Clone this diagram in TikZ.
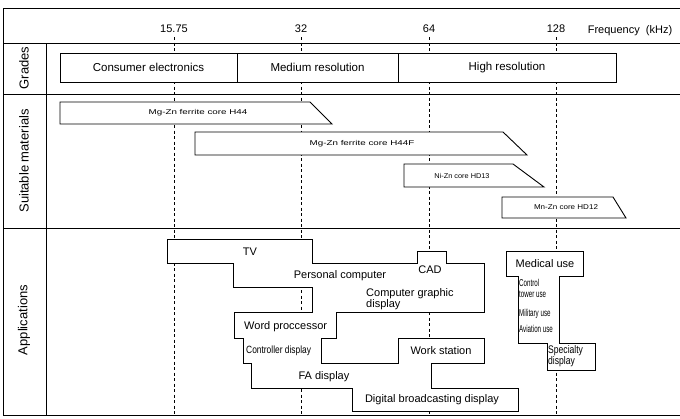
\documentclass[tikz,border=0pt]{standalone}
\usepackage{fontspec}
\setmainfont{Liberation Sans}
\begin{document}
\begin{tikzpicture}[x=1pt,y=-1pt,
  frameline/.style={line width=0.7pt},
  gridline/.style={line width=0.5pt, dash pattern=on 3pt off 2.5pt},
  shapeline/.style={draw, fill=white, line width=0.9pt, line join=miter},
  gbox/.style={draw, fill=white, line width=0.9pt, inner sep=0pt, minimum height=29pt, font=\fontsize{11.5}{12}\selectfont},
  hdr/.style={inner sep=0pt, font=\fontsize{11}{12}\selectfont},
  side/.style={inner sep=0pt, rotate=90, font=\fontsize{13}{13}\selectfont},
  mat/.style={inner sep=0pt, font=\fontsize{7}{8}\selectfont},
  app/.style={inner sep=0pt, font=\fontsize{11}{11}\selectfont},
  appsm/.style={inner sep=0pt, font=\fontsize{10.5}{10.5}\selectfont},
  cond/.style={inner sep=0pt, align=left, font=\fontsize{10}{11.5}\selectfont}
]
\useasboundingbox (0,0) rectangle (680,418);

% frame
\draw[frameline] (680,8) -- (3,8) -- (3,415) -- (680,415);
\draw[frameline] (3,43) -- (680,43);
\draw[frameline] (3,94) -- (680,94);
\draw[frameline] (3,228) -- (680,228);
\draw[frameline] (46,43) -- (46,415);

% grid lines
\foreach \gx in {174,301,429,556}
  \draw[gridline] (\gx,37) -- (\gx,415);

% header
\node[hdr] (f1) at (174,29) {15.75};
\node[hdr] (f2) at (301,29) {32};
\node[hdr] (f3) at (429,29) {64};
\node[hdr] (f4) at (556,29) {128};
\node[hdr] (fq) at (630,31) {Frequency\ \ (kHz)};

% side labels
\node[side] (sg) at (24,68) {Grades};
\node[side] (sm) at (24,161) {Suitable materials};
\node[side] (sa) at (24,320) {Applications};

% grades
\node[gbox, minimum width=177pt] (ce) at (148.5,67.5) {Consumer electronics};
\node[gbox, minimum width=161pt] (mr) at (317.5,67.5) {Medium resolution};
\node[gbox, minimum width=218pt] (hr) at (507,67.5) {High resolution};

% materials
\draw[shapeline] (60,102) -- (310,102) -- (332,124) -- (60,124) -- cycle;
\node[mat] (m1) at (198,113) {\scalebox{1.4}[1]{Mg-Zn ferrite core H44}};
\draw[shapeline] (195,132) -- (503,132) -- (527,155) -- (195,155) -- cycle;
\node[mat] (m2) at (362,143.5) {\scalebox{1.4}[1]{Mg-Zn ferrite core H44F}};
\draw[shapeline] (404,164) -- (513,164) -- (544,187) -- (404,187) -- cycle;
\node[mat] (m3) at (462,175.5) {\scalebox{1.05}[1]{Ni-Zn core HD13}};
\draw[shapeline] (502,197) -- (613,197) -- (626,218) -- (502,218) -- cycle;
\node[mat] (m4) at (566,207.5) {\scalebox{1.15}[1]{Mn-Zn core HD12}};

% applications main band
\draw[shapeline] (167,239) -- (312,239) -- (312,263) -- (417,263) -- (417,251) -- (446,251) -- (446,263) -- (484,263) -- (484,312) -- (336,312) -- (336,338) -- (321,338) -- (321,363) -- (398,363) -- (398,338) -- (484,338) -- (484,363) -- (431,363) -- (431,388) -- (518,388) -- (518,411) -- (352,411) -- (352,388) -- (251,388) -- (251,363) -- (243,363) -- (243,338) -- (234,338) -- (234,312) -- (312,312) -- (312,287) -- (233,287) -- (233,263) -- (167,263) -- cycle;

\node[app] (tv) at (250,252) {TV};
\node[app] (pc) at (340,276) {Personal computer};
\node[app] (cad) at (430,270) {CAD};
\node[app, align=left, anchor=north west, font=\fontsize{11}{9.5}\selectfont] (cg) at (366,288) {Computer graphic\\display};
\node[app, anchor=west] (wp) at (244,327) {Word proccessor};
\node[appsm, anchor=west] (cd) at (246,351) {\scalebox{0.8}[1]{Controller display}};
\node[app] (fa) at (324,377) {FA display};
\node[app] (ws) at (441,351) {Work station};
\node[app] (db) at (432,400) {Digital broadcasting display};

% medical band
\draw[shapeline] (506,251) -- (583,251) -- (583,276) -- (559,276) -- (559,343) -- (595,343) -- (595,370) -- (547,370) -- (547,343) -- (518,343) -- (518,276) -- (506,276) -- cycle;
\node[app] (mu) at (545,264) {Medical use};
\node[cond, anchor=north west] (ct) at (519,279) {\scalebox{0.62}[1]{Control}\\\scalebox{0.62}[1]{tower use}};
\node[cond, anchor=west] (mi) at (519,314) {\scalebox{0.62}[1]{Military use}};
\node[cond, anchor=west] (av) at (519,329) {\scalebox{0.62}[1]{Aviation use}};
\node[cond, anchor=north west, font=\fontsize{11}{10}\selectfont] (sd) at (548,345) {\scalebox{0.78}[1]{Specialty}\\\scalebox{0.78}[1]{display}};
\end{tikzpicture}
\end{document}
